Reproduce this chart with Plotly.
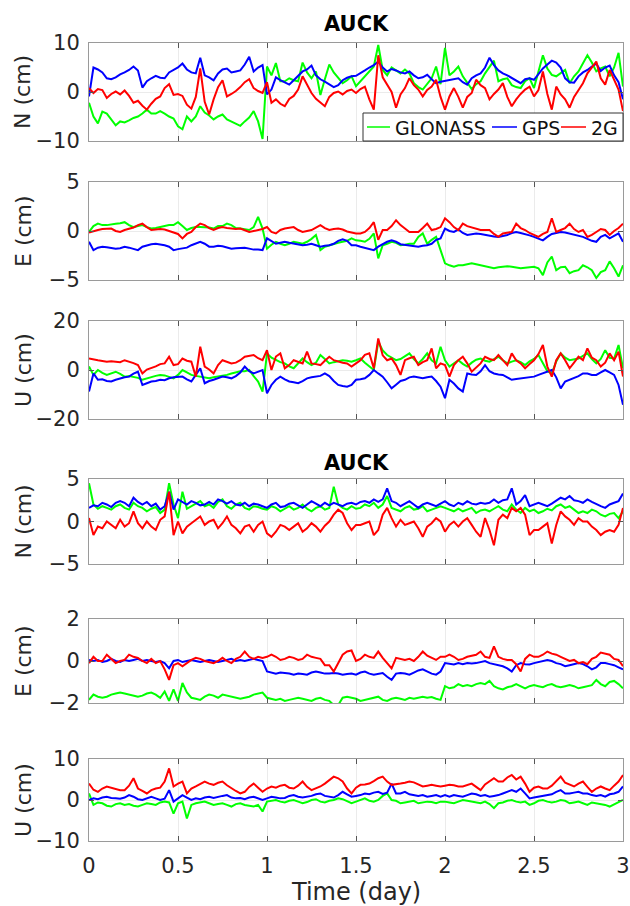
import numpy as np
import plotly.graph_objects as go

STEP = 0.025  # days between samples

# ---------------- upper group: N, E, U (cm) ----------------
N1_GLONASS = [-2.2, -5.0, -6.4, -4.0, -4.4, -5.6, -6.8, -6.0, -6.2, -5.8, -5.3, -5.0, -4.4, -3.6, -4.4, -4.4, -3.9, -4.4, -5.0, -5.4,
              -7.0, -7.6, -5.0, -6.0, -5.0, -2.9, -4.2, -4.8, -5.6, -5.0, -4.6, -5.6, -6.0, -6.4, -6.9, -6.0, -5.2, -3.9, -6.0, -9.6,
              5.2, 3.4, 5.9, 2.2, 2.2, 2.8, 2.4, 2.2, 6.0, 4.0, 2.8, 4.2, -0.6, 2.6, 5.6, 4.0, 2.8, 1.8, 2.4, 3.2,
              1.2, 2.2, 3.2, 4.0, 5.2, 9.6, 4.5, 3.4, 5.0, 4.4, 3.8, 4.6, 3.8, 1.8, 1.0, 0.5, 1.6, 2.8, 5.2, 1.6,
              9.0, 3.4, 4.2, 5.2, 3.2, 2.0, 0.6, 1.6, 2.2, 3.8, 5.0, 6.4, 2.2, 2.6, 2.8, 1.4, 1.0, 0.8, 2.2, 2.8,
              0.8, 4.0, 7.5, 4.8, 3.5, 3.2, 3.8, 4.5, 1.8, 3.2, 4.2, 5.9, 7.5, 6.0, 4.2, 4.8, 5.2, 3.2, 5.0, 8.0, 1.1]
N1_GPS = [-0.9, 5.0, 4.6, 4.0, 2.8, 2.6, 3.0, 3.6, 4.0, 4.5, 5.2, 4.4, 0.9, 2.2, 2.8, 3.3, 2.9, 2.8, 4.0, 4.5,
          5.0, 5.8, 4.6, 4.0, 3.8, 7.0, 3.4, 3.0, 2.4, 3.8, 4.6, 4.8, 4.0, 4.2, 4.4, 5.6, 7.2, 4.2, 5.0, 5.5,
          -0.5, 0.5, 3.0, 2.4, 2.0, 1.5, 2.4, 3.4, 4.2, 4.6, 5.4, 3.4, 2.6, 2.1, 1.6, 1.0, 1.4, 2.4, 2.9, 3.2,
          3.3, 3.8, 4.4, 5.0, 5.5, 6.2, 5.0, 4.2, 4.7, 4.4, 4.0, 3.8, 4.2, 3.4, 2.8, 3.0, 3.5, 2.6, 1.8, 2.1,
          2.3, 2.5, 2.7, 2.8, 2.0, 1.5, 2.8, 3.4, 3.8, 5.0, 7.0, 5.5, 4.4, 3.8, 3.4, 2.9, 2.3, 1.8, 2.6, 2.8,
          2.5, 3.6, 4.8, 5.6, 6.4, 6.0, 5.0, 2.8, 2.0, 1.9, 3.2, 4.0, 4.5, 5.2, 5.8, 4.3, 5.0, 5.4, 3.4, 2.0, -1.5]
N1_2G = [0.8, -0.2, 0.6, 0.4, -1.2, -0.4, 0.1, -0.5, 0.3, -0.8, -2.2, -1.8, -2.8, -3.6, -2.4, -1.4, -0.9, 0.8, 1.6, -0.6,
         -0.4, -0.8, -2.6, -3.4, -1.0, 4.8, -2.0, -4.6, -1.5, 1.0, 2.4, -0.9, -0.4, 0.2, 1.0, 2.0, 2.6, 0.8, 0.2, -0.2,
         2.0, -2.2, -1.5, -2.4, -2.9, -1.4, -0.8, 0.5, 3.2, 1.4, -0.2, -1.4, -2.2, -2.9, -1.0, -0.2, 0.1, -0.5, 0.2, 0.5,
         -0.2, 0.6, 1.1, -1.5, -3.6, 7.5, 3.0, 1.6, 0.0, -3.2, -0.5, 0.8, 2.8, 1.4, 0.5, -0.9, 0.4, 1.1, 2.5, -1.0,
         -3.6, -0.9, 0.8, -1.0, -3.2, -1.0, -0.2, 2.5, 1.4, 0.8, -1.5, -0.4, 0.5, 1.8, -1.0, -2.9, -1.5, -0.4, 0.5, 1.1,
         -0.9, 0.4, 4.2, -0.4, -3.6, 1.1, -0.5, -1.5, -3.2, -1.0, 0.5, 1.8, 3.8, 5.0, 6.2, 2.8, 1.5, 4.5, 2.5, 0.5, -3.9]

E1_GLONASS = [-0.1, 0.5, 0.75, 0.6, 0.6, 0.7, 0.75, 0.8, 0.9, 0.6, 0.4, 0.5, 0.6, 0.4, 0.25, 0.3, 0.4, 0.45, 0.6, 0.6,
              0.9, 0.5, 0.1, 0.3, 0.4, 0.4, 0.4, 0.35, 0.25, 0.5, 0.5, 0.75, 0.6, 0.3, 0.25, 0.2, 0.1, 0.4, 1.45, 0.25,
              -1.8, -1.4, -1.1, -1.3, -1.45, -1.3, -1.1, -1.2, -1.3, -1.1, -0.8, -0.4, -1.95, -1.6, -1.45, -1.3, -1.2, -1.1, -1.0, -0.75,
              -0.95, -1.0, -1.1, -0.8, -0.25, -2.8, -1.45, -1.3, -1.1, -1.2, -1.45, -1.4, -1.3, -1.3, -0.6, -0.25, -1.3, -0.9, -0.6, -1.95,
              -3.3, -3.5, -3.65, -3.5, -3.5, -3.4, -3.3, -3.4, -3.5, -3.6, -3.7, -3.8, -3.7, -3.65, -3.6, -3.65, -3.7, -3.8, -3.75, -3.7,
              -3.65, -3.8, -4.5, -3.2, -2.6, -4.0, -3.7, -3.65, -4.3, -4.1, -4.0, -3.5, -3.7, -4.0, -4.8, -4.2, -4.0, -3.1, -3.8, -4.65, -3.5]
E1_GPS = [-1.1, -1.95, -1.7, -1.6, -1.65, -1.7, -1.8, -1.75, -1.6, -1.7, -1.85, -1.95, -1.6, -1.45, -1.35, -1.3, -1.35, -1.45, -1.6, -1.95,
          -1.85, -1.8, -1.7, -1.45, -1.3, -1.1, -1.3, -1.6, -1.6, -1.5, -1.55, -1.7, -1.8, -1.75, -1.7, -1.7, -1.8, -1.9, -1.9, -1.95,
          -0.75, -1.0, -1.3, -1.2, -1.1, -1.2, -1.3, -1.35, -1.45, -1.4, -1.3, -1.45, -1.6, -1.5, -1.45, -1.3, -1.0, -0.85, -1.0, -1.45,
          -1.45, -1.6, -1.7, -1.85, -1.95, -1.6, -1.35, -1.1, -0.95, -1.1, -1.35, -1.4, -1.45, -1.5, -1.6, -1.5, -1.45, -1.3, -0.9, -0.75,
          0.25, 0.0, -0.1, 0.15, -0.2, -0.4, -0.3, -0.25, -0.3, -0.4, -0.45, -0.55, -0.6, -0.5, -0.4, -0.2, -0.1, -0.2, -0.3, -0.45,
          -0.6, -0.8, -0.95, -0.6, -0.3, -0.2, -0.1, -0.15, -0.25, -0.4, -0.5, -0.6, -0.8, -1.0, -1.1, -0.6, -0.4, -0.75, -0.5, -0.25, -1.1]
E1_2G = [-0.15, 0.0, 0.1, 0.2, 0.25, 0.25, 0.0, -0.1, 0.1, 0.25, 0.35, 0.6, 0.75, 0.4, 0.1, 0.15, 0.2, 0.15, 0.0, -0.1,
         -0.3, -0.75, -0.3, -0.1, 0.4, 0.75, 0.6, 0.3, 0.1, 0.3, 0.4, 0.3, 0.25, 0.2, 0.25, 0.1, -0.1, 0.0, 0.1, 0.2,
         0.4, -0.1, -0.25, 0.1, 0.25, 0.35, 0.4, 0.1, -0.1, 0.0, 0.1, 0.35, 0.6, 0.3, 0.1, 0.2, 0.25, 0.15, -0.05, -0.15,
         -0.25, -0.25, -0.1, 0.3, 0.9, -0.9, 0.1, 0.1, 0.5, 1.1, 0.6, 0.25, -0.1, -0.1, -0.1, 0.3, 0.75, 0.1, 0.2, 0.4,
         1.3, 0.9, 0.4, 0.1, 0.75, 0.5, 0.35, 0.2, 0.1, 0.1, 0.1, -0.3, -0.6, -0.25, -0.15, -0.1, 0.75, 0.3, 0.1, -0.2,
         -0.4, -0.6, -0.3, -0.1, 1.3, -0.1, 0.1, 0.3, 0.75, 0.2, -0.1, 0.1, -0.6, -0.4, -0.1, 0.2, 0.1, -0.4, 0.0, 0.3, 0.75]

U1_GLONASS = [1.4, -2.0, 0.0, -1.2, -2.0, -1.2, -0.7, -1.6, -2.7, -2.5, -2.7, -3.2, -4.0, -3.4, -2.7, -2.4, -2.0, -2.2, -2.8, -3.4,
              -2.0, 0.0, -1.0, -2.0, -2.4, -2.7, -3.0, -3.4, -3.0, -2.7, -2.4, -2.0, -1.4, -1.0, -0.5, -0.5, 0.0, -2.5, -4.7, -8.8,
              6.8, 5.0, 4.0, 3.2, 2.7, 1.5, 0.7, 2.8, 4.7, 3.2, 2.0, 3.0, 6.1, 4.5, 2.7, 3.2, 3.6, 4.0, 3.8, 3.4,
              4.0, 4.7, 3.0, 1.5, 0.0, 11.5, 8.0, 6.1, 5.0, 4.0, 4.5, 5.8, 6.8, 4.5, 2.7, 4.5, 6.8, 4.0, 2.7, 9.5,
              4.0, 1.4, 2.8, 4.0, 2.5, 1.4, 3.0, 4.2, 4.7, 3.8, 3.4, 4.5, 5.4, 4.0, 2.7, 3.4, 4.0, 3.2, 2.0, 3.5,
              4.5, 6.1, 3.0, -0.5, -1.4, 3.5, 6.8, 5.0, 4.0, 4.4, 4.7, 5.8, 6.8, 4.5, 2.7, 4.5, 8.1, 5.0, 4.7, 10.2, 0.7]
U1_GPS = [-8.8, -1.4, -4.0, -3.8, -4.5, -4.7, -4.0, -3.4, -3.0, -2.7, -1.5, -0.7, -6.1, -5.4, -4.7, -4.5, -4.0, -4.2, -3.4, -3.0,
          -2.8, -2.7, -3.8, -4.7, -2.0, 0.7, -5.4, -4.5, -4.0, -3.4, -2.7, -3.0, -3.4, -2.5, -1.0, 1.4, -0.5, -1.4, -0.6, 0.0,
          -9.5, -6.1, -4.0, -2.7, -3.8, -4.7, -5.0, -5.4, -4.5, -3.4, -3.0, -2.7, -2.4, -1.4, -2.5, -4.5, -6.1, -6.5, -6.8, -6.1,
          -4.0, -3.8, -3.4, -2.0, 0.0, -1.4, -2.7, -5.0, -7.5, -6.0, -4.5, -4.0, -3.0, -2.7, -3.0, -3.4, -3.0, -2.7, -4.5, -6.8,
          -11.5, -4.0, -5.5, -7.5, -8.8, -1.4, -1.8, -2.0, -0.5, 2.0, -0.5, -1.4, -1.8, -2.0, -3.0, -4.0, -3.7, -3.4, -3.0, -2.7,
          -2.7, -2.0, -1.4, -0.8, 0.0, -3.0, -7.5, -4.7, -4.0, -3.4, -2.5, -1.4, -1.4, -2.0, -2.0, -1.0, 0.0, -1.0, -2.0, -6.1, -14.2]
U1_2G = [4.7, 4.2, 4.0, 3.7, 3.4, 3.6, 3.4, 3.2, 4.0, 3.5, 2.8, 2.0, -1.4, 0.2, 0.7, 1.5, 2.4, 2.7, 5.4, 2.0,
         2.4, 4.7, 3.8, 3.4, -2.7, 9.5, 1.4, 0.2, -1.4, 2.0, 4.0, 3.4, 2.7, 3.0, 4.0, 5.4, 5.8, 6.1, 4.8, 4.0,
         8.1, 0.0, 5.5, 6.8, 0.7, 2.0, 4.0, 3.2, 2.7, 7.5, 2.7, 2.4, 2.0, 3.8, 5.4, 4.0, 3.4, 3.0, 2.7, 1.4,
         2.7, 4.0, 6.2, 6.8, 0.7, 12.9, 6.0, 4.0, 4.7, 2.0, -2.0, 4.0, 4.8, 5.4, 2.0, 3.2, 4.0, 8.8, 0.7, 2.7,
         2.0, -2.7, 2.0, 4.0, 5.4, 2.7, -0.7, 1.0, 2.7, 5.4, 4.5, 4.0, 6.1, 4.0, 2.0, 6.8, 4.0, 2.7, 0.7, 2.4,
         4.0, 6.5, 10.2, 1.4, -2.7, 4.0, 6.8, 4.0, 0.7, 3.0, 5.4, 4.0, 8.8, 5.0, 4.0, 1.4, 3.0, 6.8, 4.0, 7.5, -2.7]

# ---------------- lower group: N, E, U (cm) ----------------
N2_GLONASS = [4.5, 2.0, 1.5, 1.8, 1.6, 1.4, 1.8, 2.0, 1.6, 1.4, 2.2, 1.8, 1.6, 1.2, 1.5, 1.7, 1.0, 1.4, 4.5, 2.0,
              0.4, 3.5, 1.5, 1.8, 2.2, 2.4, 1.8, 2.0, 1.6, 2.3, 2.6, 1.8, 1.5, 2.0, 2.2, 1.6, 1.4, 1.8, 1.7, 1.5,
              1.4, 1.8, 1.6, 1.2, 1.5, 1.8, 1.4, 1.6, 2.0, 1.5, 1.2, 1.6, 1.8, 1.4, 1.6, 4.1, 2.0, 1.6, 1.4, 1.8,
              1.5, 1.6, 2.0, 1.8, 2.2, 1.6, 2.0, 3.0, 1.6, 1.4, 1.2, 1.6, 1.8, 1.4, 1.5, 1.8, 1.2, 1.4, 1.6, 1.8,
              1.6, 1.4, 1.2, 1.5, 1.2, 1.4, 1.6, 1.0, 1.3, 1.4, 1.2, 1.5, 1.8, 1.4, 1.2, 2.0, 1.4, 1.0, 1.6, 1.2,
              1.4, 1.0, 1.2, 1.5, 1.3, 1.8, 2.0, 1.6, 1.8, 1.4, 1.0, 1.2, 1.0, 1.4, 1.2, 0.8, 0.6, 0.9, 1.0, 0.4, 1.2]
N2_GPS = [1.6, 1.9, 1.8, 2.2, 2.0, 1.7, 2.2, 2.4, 2.2, 1.8, 2.8, 2.3, 2.0, 2.3, 1.8, 2.1, 1.4, 1.8, 3.5, 1.4,
          2.6, 2.3, 2.0, 2.4, 2.2, 1.9, 2.0, 2.3, 2.0, 2.6, 2.4, 2.1, 2.4, 2.0, 1.9, 2.2, 1.8, 2.1, 2.0, 1.8,
          1.6, 2.0, 2.2, 1.7, 1.8, 2.1, 2.2, 1.9, 1.6, 2.0, 2.4, 2.1, 1.8, 2.2, 1.9, 2.2, 2.0, 1.8, 2.1, 2.2,
          2.0, 2.3, 2.4, 2.2, 2.6, 2.3, 2.6, 3.9, 2.4, 2.2, 1.8, 2.1, 2.4, 2.0, 1.6, 2.0, 2.2, 2.0, 1.8, 2.1,
          2.4, 2.0, 1.8, 2.2, 2.0, 2.4, 2.1, 2.0, 2.2, 2.1, 2.2, 2.6, 2.2, 2.5, 2.6, 3.9, 2.0, 2.4, 3.1, 1.8,
          2.0, 2.2, 2.0, 1.8, 2.1, 2.4, 2.8, 2.6, 3.0, 2.5, 2.4, 2.2, 2.6, 2.3, 2.0, 1.8, 1.6, 2.0, 2.2, 2.4, 3.3]
N2_2G = [0.4, -1.6, -0.6, -0.8, 0.0, -0.4, -0.8, 0.2, -0.6, -0.2, 1.2, -0.2, -0.8, 0.0, -0.6, -1.0, 0.2, 0.6, 3.5, -1.6,
         0.0, -1.4, -0.6, -0.2, 0.2, 0.6, -0.4, 0.0, 0.2, -0.8, -0.2, 0.6, -0.4, -0.8, -1.4, -0.6, -0.4, -1.2, -0.4, 0.0,
         -1.4, -1.8, -1.2, -0.4, -0.6, -1.0, -0.6, -0.2, -1.2, -0.8, -0.2, -0.6, -1.2, -0.5, 0.0, 0.8, 1.4, 1.0, -0.2, -1.0,
         -0.4, -0.4, -0.2, 0.0, -1.6, -1.0, 0.8, 1.6, 0.4, -0.6, 0.2, -0.4, -0.2, 0.0, -0.8, -1.8, -0.6, -0.2, 0.4, 0.0,
         -1.2, -0.4, 0.0, -0.6, 0.0, 0.4, -0.4, -1.2, -1.8, 0.4, -1.0, -2.8, 0.2, 0.8, 0.4, 1.6, 1.2, 1.6, 0.8, -1.6,
         -1.0, -1.0, -0.6, -0.2, -2.6, -0.4, 1.2, 0.6, 0.2, -0.4, 0.4, 0.0, 0.0, -0.6, -1.0, -1.6, -1.2, -1.0, -1.2, -0.4, 1.6]

E2_GLONASS = [-1.85, -1.6, -1.7, -1.75, -1.7, -1.6, -1.55, -1.5, -1.55, -1.6, -1.65, -1.7, -1.65, -1.55, -1.5, -1.6, -1.75, -1.45, -1.9, -1.35,
              -1.9, -1.05, -1.5, -1.75, -1.8, -1.85, -1.7, -1.6, -1.65, -1.75, -1.6, -1.65, -1.7, -1.75, -1.8, -1.75, -1.7, -1.6, -1.55, -1.5,
              -1.75, -1.8, -1.85, -1.8, -1.9, -1.85, -1.8, -1.75, -1.8, -1.85, -1.9, -1.8, -1.75, -1.85, -1.9, -2.1, -2.1, -1.75, -1.7, -1.75,
              -1.8, -1.9, -1.85, -1.8, -1.75, -1.7, -1.85, -1.9, -1.8, -1.75, -1.8, -1.85, -1.75, -1.8, -1.75, -1.7, -1.75, -1.72, -1.8, -1.85,
              -1.2, -1.3, -1.25, -1.1, -1.2, -1.15, -1.2, -1.1, -1.05, -1.1, -0.95, -1.2, -1.3, -1.35, -1.25, -1.2, -1.1, -1.2, -1.3, -1.2,
              -1.15, -1.2, -1.25, -1.15, -1.1, -1.2, -1.25, -1.2, -1.15, -1.2, -1.3, -1.25, -1.2, -1.15, -0.9, -1.1, -1.2, -1.0, -0.95, -1.1, -1.3]
E2_GPS = [0.05, 0.0, 0.05, -0.05, 0.0, 0.1, 0.0, -0.05, 0.05, 0.0, 0.05, 0.1, 0.0, 0.05, 0.0, -0.05, 0.0, -0.1, -0.35, 0.0,
          0.05, -0.05, 0.0, 0.05, 0.0, -0.05, 0.0, 0.05, 0.0, -0.05, 0.0, 0.05, 0.1, 0.0, 0.05, 0.0, 0.05, 0.1, 0.05, 0.0,
          -0.5, -0.55, -0.6, -0.55, -0.57, -0.6, -0.65, -0.6, -0.62, -0.65, -0.55, -0.5, -0.55, -0.6, -0.6, -0.57, -0.6, -0.65, -0.62, -0.6,
          -0.65, -0.55, -0.5, -0.6, -0.65, -0.6, -0.57, -0.75, -0.9, -0.6, -0.57, -0.6, -0.65, -0.55, -0.45, -0.4, -0.5, -0.6, -0.65, -0.5,
          -0.1, -0.15, -0.17, -0.1, -0.15, -0.1, -0.12, -0.1, -0.05, 0.0, -0.1, -0.15, -0.2, -0.25, -0.35, -0.5, -0.2, -0.1, -0.15, -0.17,
          -0.1, -0.05, 0.0, 0.05, 0.0, -0.1, -0.15, -0.25, -0.2, -0.15, -0.1, -0.15, -0.25, -0.4, -0.3, -0.1, -0.1, -0.15, -0.2, -0.3, -0.4]
E2_2G = [-0.1, 0.2, 0.0, 0.0, 0.3, 0.1, -0.1, 0.0, 0.05, 0.3, 0.2, 0.15, 0.0, -0.1, 0.1, -0.1, 0.0, -0.4, -0.9, -0.2,
         -0.1, -0.25, -0.1, 0.05, 0.15, 0.1, 0.0, -0.05, -0.1, 0.0, 0.15, 0.0, -0.1, 0.1, 0.2, 0.45, 0.2, 0.1, 0.2, 0.15,
         0.2, 0.3, 0.2, 0.05, 0.1, 0.2, 0.15, 0.05, 0.1, 0.3, 0.2, 0.15, 0.1, -0.2, -0.2, -0.5, -0.1, 0.3, 0.45, 0.5,
         0.0, 0.1, 0.3, 0.2, 0.15, 0.45, 0.15, -0.1, -0.35, 0.15, 0.1, 0.05, 0.1, 0.0, 0.2, 0.45, 0.25, 0.15, 0.05, 0.2,
         0.2, 0.3, 0.2, 0.05, 0.1, 0.2, 0.25, 0.3, 0.45, 0.2, 0.15, 0.7, 0.2, 0.1, 0.05, 0.05, -0.15, -0.5, 0.1, 0.3,
         0.2, 0.2, 0.3, 0.45, 0.35, 0.3, 0.2, 0.1, 0.0, 0.05, -0.1, -0.05, -0.15, 0.1, 0.2, 0.4, 0.35, 0.3, 0.1, 0.05, -0.25]

U2_GLONASS = [1.6, -1.2, -0.6, -0.8, -1.4, -1.6, -1.0, -0.8, -1.2, -1.0, -1.4, -1.6, -1.2, -0.8, -1.0, -1.2, -0.6, -0.4, -0.6, -3.3,
              -0.8, -0.4, -4.5, -1.2, -0.8, -0.6, -0.4, -0.8, -1.2, -1.0, -0.8, -1.2, -1.6, -1.0, -0.8, -1.2, -1.4, -1.6, -1.2, -2.8,
              -0.4, -0.2, 0.0, -0.4, -0.6, -0.2, 0.0, -0.4, -0.8, -0.5, 0.0, 0.2, -0.4, -0.6, -0.2, 0.0, 0.4, 0.2, -0.4, -0.8,
              -0.4, 0.0, 0.4, -0.2, -0.4, 0.0, 1.0, 1.6, 0.0, -0.2, -0.8, -0.6, -0.4, -0.2, -0.8, -0.6, -0.4, -0.5, -0.8, -0.4,
              -0.4, -0.6, -0.8, -0.4, 0.0, -0.2, -0.4, -0.6, -0.8, -0.4, -1.0, -2.0, -0.8, -0.6, -0.2, 0.0, -0.4, -0.6, -0.4, -1.2,
              -0.8, -0.2, 0.0, -0.4, -0.6, -0.4, 0.0, -0.2, -0.8, -0.6, -0.4, -0.8, -1.2, -0.6, -0.8, -1.0, -1.2, -1.6, -1.0, -0.6, 0.0]
U2_GPS = [0.0, 0.4, 0.2, 0.6, 0.8, 0.5, 0.4, 0.3, 0.6, 1.2, 0.8, 0.2, 0.0, 0.5, 0.8, 0.4, 0.0, 0.3, 2.4, -0.4,
          0.4, 1.2, 0.6, 0.0, 0.4, 0.2, 0.6, 0.8, 0.5, 0.8, 1.0, 1.2, 0.6, 0.4, 0.5, 0.2, 0.6, 0.8, 0.4, 0.0,
          0.4, 0.8, 0.6, 0.4, 0.5, 1.0, 1.2, 0.8, 0.6, 0.8, 1.0, 1.4, 1.6, 1.0, 0.8, 0.6, 1.2, 2.0, 1.4, 0.8,
          1.0, 1.2, 1.6, 1.4, 1.8, 2.0, 1.5, 1.8, 4.0, 1.6, 1.6, 2.0, 1.4, 1.2, 1.0, 1.2, 0.8, 1.0, 1.2, 0.8,
          1.2, 0.8, 1.2, 1.0, 0.8, 1.2, 1.6, 1.4, 1.0, 1.2, 0.8, 1.0, 1.2, 1.6, 2.0, 2.4, 2.0, 2.8, 1.6, 0.4,
          0.6, 0.8, 1.0, 1.2, 1.4, 2.0, 2.4, 1.6, 1.6, 1.8, 2.0, 1.6, 1.6, 1.2, 1.0, 1.2, 0.8, 1.4, 1.6, 2.0, 3.3]
U2_2G = [4.0, 2.5, 2.0, 2.8, 3.3, 3.0, 2.8, 2.4, 2.4, 3.5, 5.3, 2.8, 2.2, 1.6, 2.4, 2.8, 3.0, 4.5, 7.7, 3.3,
         4.0, 4.5, 1.6, 2.8, 3.3, 4.0, 4.5, 4.0, 3.7, 4.2, 4.5, 3.6, 2.8, 2.2, 1.6, 2.0, 3.2, 4.0, 3.0, 2.0,
         2.8, 3.3, 3.0, 3.5, 3.7, 3.0, 2.8, 3.5, 4.5, 3.2, 2.4, 2.8, 3.3, 4.0, 4.9, 5.7, 5.3, 4.5, 2.8, 1.6,
         3.0, 3.7, 3.8, 4.0, 4.6, 5.3, 5.7, 4.5, 3.7, 3.8, 4.0, 4.2, 4.5, 4.3, 3.8, 3.3, 3.5, 3.7, 3.5, 3.3,
         3.5, 3.7, 3.6, 3.3, 3.3, 3.7, 4.0, 3.2, 2.4, 3.8, 4.6, 5.3, 4.5, 4.5, 5.5, 6.1, 5.0, 5.7, 4.0, 2.0,
         3.0, 3.3, 2.8, 2.8, 3.5, 4.5, 5.7, 4.2, 3.7, 3.3, 4.0, 4.5, 3.2, 2.0, 2.8, 3.3, 2.8, 2.4, 3.5, 4.5, 6.1]

SERIES_NAMES = ["GLONASS", "GPS", "2G"]
SERIES_COLORS = ["#00ff00", "#0000ff", "#ff0000"]
PANEL_DATA = [
    (N1_GLONASS, N1_GPS, N1_2G),
    (E1_GLONASS, E1_GPS, E1_2G),
    (U1_GLONASS, U1_GPS, U1_2G),
    (N2_GLONASS, N2_GPS, N2_2G),
    (E2_GLONASS, E2_GPS, E2_2G),
    (U2_GLONASS, U2_GPS, U2_2G),
]
PANEL_LABELS = ["N (cm)", "E (cm)", "U (cm)", "N (cm)", "E (cm)", "U (cm)"]
PANEL_TICKS = [[-10, 0, 10], [-5, 0, 5], [-20, 0, 20], [-5, 0, 5], [-2, 0, 2], [-10, 0, 10]]
X_TICKS = [0, 0.5, 1, 1.5, 2, 2.5, 3]
X_TICKTEXT = ["0", "0.5", "1", "1.5", "2", "2.5", "3"]
TITLE = "AUCK"

# ---------------- layout geometry (pixels) ----------------
W, H = 630, 906
PL, PR = 89, 623
PANEL_PX = [(43, 141), (182, 280), (321, 419), (479, 564), (619, 703), (759, 841)]
FONT = "DejaVu Sans"
# legend box (inside the first panel, bottom right) and its entries
LEG_BOX = (363, 113, 623, 141)
LEG_ENTRIES = [(367, 390, 393), (492, 517, 520), (561, 586, 589)]  # line x0, x1, text x
LEG_FONT = 19


def px_x(x):
    return x / W


def px_y(y):
    return 1 - y / H


fig = go.Figure()
layout = dict(
    width=W, height=H, autosize=False,
    margin=dict(l=0, r=0, t=0, b=0, autoexpand=False),
    paper_bgcolor="white", plot_bgcolor="white",
    font=dict(family=FONT, color="#262626"),
    showlegend=False,
)

for i, (series, ticks, (top, bot)) in enumerate(zip(PANEL_DATA, PANEL_TICKS, PANEL_PX)):
    k = "" if i == 0 else str(i + 1)
    for name, color, vals in zip(SERIES_NAMES, SERIES_COLORS, series):
        t = np.arange(len(vals)) * STEP
        fig.add_trace(go.Scatter(
            x=t, y=vals, mode="lines", name=name,
            line=dict(color=color, width=2),
            xaxis="x" + k, yaxis="y" + k,
            legendgroup=name,
        ))
    common = dict(
        showline=True, linecolor="#9a9a9a", linewidth=1, mirror="ticks",
        ticks="inside", ticklen=5, tickcolor="#555555", tickwidth=1,
        showgrid=True, gridcolor="#ebebeb", gridwidth=1, zeroline=False,
        tickfont=dict(size=21, family=FONT, color="#262626"),
    )
    layout["xaxis" + k] = dict(
        common, domain=[px_x(PL), px_x(PR)], range=[0, 3], anchor="y" + k,
        tickmode="array", tickvals=X_TICKS, ticktext=X_TICKTEXT,
        showticklabels=(i == 5), ticklabelstandoff=6,
    )
    ticktext = [("\u2212" + str(abs(v))) if v < 0 else str(v) for v in ticks]
    layout["yaxis" + k] = dict(
        common, domain=[px_y(bot), px_y(top)], range=[ticks[0], ticks[-1]], anchor="x" + k,
        tickmode="array", tickvals=ticks, ticktext=ticktext, ticklabelstandoff=4,
    )

annotations = []
for label, (top, bot) in zip(PANEL_LABELS, PANEL_PX):
    annotations.append(dict(
        text=label, x=px_x(23), y=px_y((top + bot) / 2), xref="paper", yref="paper",
        xanchor="center", yanchor="middle", textangle=-90, showarrow=False,
        font=dict(size=22, family=FONT, color="#262626"),
    ))
for ty in (24, 463):
    annotations.append(dict(
        text="<b>" + TITLE + "</b>", x=px_x((PL + PR) / 2), y=px_y(ty), xref="paper", yref="paper",
        xanchor="center", yanchor="middle", showarrow=False,
        font=dict(size=21, family=FONT, color="#000000"),
    ))
annotations.append(dict(
    text="Time (day)", x=px_x((PL + PR) / 2), y=px_y(892), xref="paper", yref="paper",
    xanchor="center", yanchor="middle", showarrow=False,
    font=dict(size=24, family=FONT, color="#262626"),
))

# legend drawn as a boxed key inside the first panel
lx0, ly0, lx1, ly1 = LEG_BOX
shapes = [dict(type="rect", xref="paper", yref="paper",
               x0=px_x(lx0), x1=px_x(lx1), y0=px_y(ly1), y1=px_y(ly0),
               line=dict(color="#333333", width=1), fillcolor="white", layer="above")]
ymid = (ly0 + ly1) / 2
for name, color, (x0, x1, xt) in zip(SERIES_NAMES, SERIES_COLORS, LEG_ENTRIES):
    shapes.append(dict(type="line", xref="paper", yref="paper",
                       x0=px_x(x0), x1=px_x(x1), y0=px_y(ymid), y1=px_y(ymid),
                       line=dict(color=color, width=1.5), layer="above"))
    annotations.append(dict(
        text=name, x=px_x(xt), y=px_y(ymid + 1), xref="paper", yref="paper",
        xanchor="left", yanchor="middle", showarrow=False,
        font=dict(size=LEG_FONT, family=FONT, color="#111111"),
    ))
layout["shapes"] = shapes
layout["annotations"] = annotations
fig.update_layout(**layout)
fig.write_html("out.html")
